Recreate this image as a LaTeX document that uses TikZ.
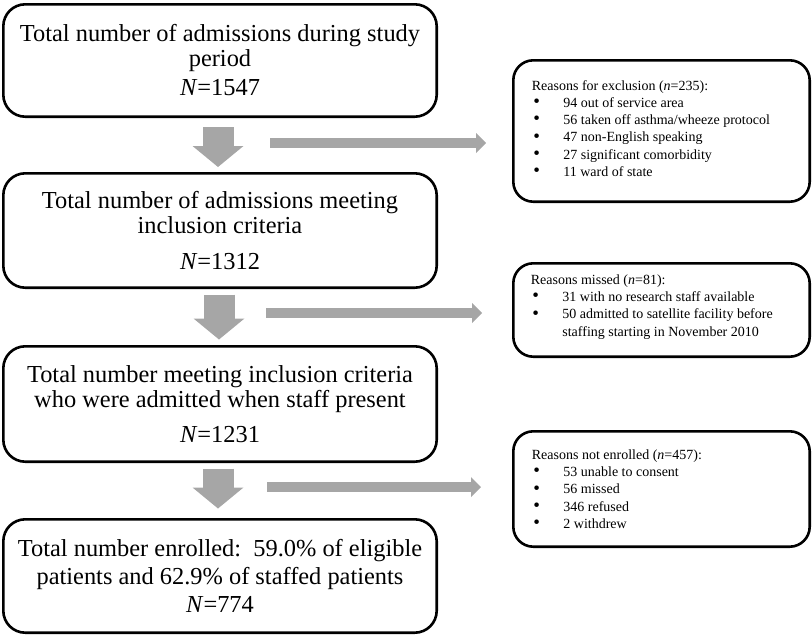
\documentclass[tikz,border=0pt]{standalone}
\usepackage{fontspec}
\setmainfont{Liberation Serif}
\usetikzlibrary{arrows.meta,calc}
\definecolor{arrowgray}{RGB}{166,166,166}
\begin{document}
\begin{tikzpicture}[x=1pt,y=-1pt,
  mainbox/.style={draw=black, line width=2.6pt, rounded corners=22pt, minimum width=433.4pt, align=center, inner sep=0pt},
  sidebox/.style={draw=black, line width=2.6pt, rounded corners=20pt, minimum width=296.4pt, inner sep=0pt},
  sidetext/.style={align=left, inner sep=0pt, anchor=north west, font=\fontsize{14}{17.3}\selectfont},
  downarrow/.style={draw=arrowgray, line width=31pt, -{Triangle[width=51pt,length=21pt,line width=0pt]}},
  sidearrow/.style={draw=arrowgray, line width=10pt, -{Triangle[width=20pt,length=10pt,line width=0pt]}}
]
\useasboundingbox (0,0) rectangle (812,637);

% main boxes
\node[mainbox, minimum height=112.4pt, font=\fontsize{24.4}{25}\selectfont] (b1) at (220,60.5)
  {Total number of admissions during study\\period\\[4pt]\textit{N}=1547};
\node[mainbox, minimum height=114.4pt, font=\fontsize{24.4}{25}\selectfont] (b2) at (220,230.5)
  {Total number of admissions meeting\\inclusion criteria\\[11pt]\textit{N}=1312};
\node[mainbox, minimum height=115.4pt, font=\fontsize{24.4}{25.5}\selectfont] (b3) at (220,404)
  {Total number meeting inclusion criteria\\who were admitted when staff present\\[9.5pt]\textit{N}=1231};
\node[mainbox, minimum height=113.4pt, font=\fontsize{24.4}{28}\selectfont] (b4) at (220,576)
  {Total number enrolled:\ \ 59.0\% of eligible\\patients and 62.9\% of staffed patients\\\textit{N}=774};

% side boxes
\node[sidebox, minimum height=141.4pt] (r1) at (661.5,131) {};
\node[sidebox, minimum height=93.4pt] (r2) at (661.5,310) {};
\node[sidebox, minimum height=115.4pt] (r3) at (661.5,489) {};

\newcommand{\bul}{\makebox[31.5pt][l]{\hspace{1.5pt}\raisebox{-0.3pt}{\fontsize{19}{19}\selectfont\textbullet}}}
\node[sidetext] (t1) at ($(r1.north west)+(19.7,21)$)
  {Reasons for exclusion (\textit{n}=235):\\
   \bul 94 out of service area\\
   \bul 56 taken off asthma/wheeze protocol\\
   \bul 47 non-English speaking\\
   \bul 27 significant comorbidity\\
   \bul 11 ward of state};
\node[sidetext] (t2) at ($(r2.north west)+(18.7,12.3)$)
  {Reasons missed (\textit{n}=81):\\
   \bul 31 with no research staff available\\
   \bul 50 admitted to satellite facility before\\
   \hspace*{31.5pt}staffing starting in November 2010};
\node[sidetext] (t3) at ($(r3.north west)+(19.7,19.3)$)
  {Reasons not enrolled (\textit{n}=457):\\
   \bul 53 unable to consent\\
   \bul 56 missed\\
   \bul 346 refused\\
   \bul 2 withdrew};

% down arrows
\draw[downarrow] ($(b1.south)+(-2,9)$) -- ($(b2.north)+(-2,-5)$);
\draw[downarrow] ($(b2.south)+(-1,5.5)$) -- ($(b3.north)+(-1,-5.5)$);
\draw[downarrow] ($(b3.south)+(-2,5.5)$) -- ($(b4.north)+(-2,-9.5)$);

% side arrows
\coordinate (h1s) at (270,143);
\coordinate (h1e) at ($(r1.west)+(-26,12)$);
\coordinate (h2s) at (266,313);
\coordinate (h2e) at ($(r2.west)+(-30,3)$);
\coordinate (h3s) at (267,487);
\coordinate (h3e) at ($(r3.west)+(-31,-2)$);
\draw[sidearrow] (h1s) -- (h1e);
\draw[sidearrow] (h2s) -- (h2e);
\draw[sidearrow] (h3s) -- (h3e);
\end{tikzpicture}
\end{document}
